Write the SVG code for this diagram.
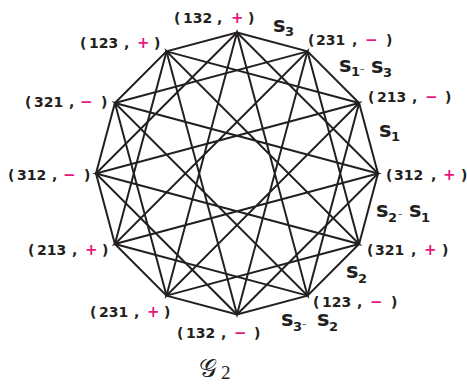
<svg xmlns="http://www.w3.org/2000/svg" width="467" height="384" viewBox="0 0 467 384">
<style>
.e{stroke:#231f20;stroke-width:2;fill:none;stroke-linecap:round}
.lb{font-family:"DejaVu Sans",sans-serif;font-weight:bold;font-size:14px;fill:#231f20}
.sg{fill:#e8177f;font-size:15px}
.gs{font-family:"DejaVu Sans",sans-serif;font-weight:bold;font-size:21px;fill:#231f20}
.gb{font-family:"DejaVu Sans",sans-serif;font-weight:bold;font-size:13px;fill:#231f20}
.gd{font-family:"DejaVu Sans",sans-serif;font-size:9px;fill:#231f20}
.tt{font-family:"DejaVu Serif","DejaVu Sans",serif;font-size:25px;fill:#222}
.tn{font-family:"Liberation Serif",serif;font-size:19px;fill:#222}
</style>
<rect width="467" height="384" fill="#fff"/>
<g id="connectors">
<polygon class="e" points="237,32.5 307.5,51.4 359.1,103 378,173.5 359.1,244 307.5,295.6 237,314.5 166.5,295.6 114.9,244 96,173.5 114.9,103 166.5,51.4"/>
<polygon class="e" points="237,32.5 378,173.5 237,314.5 96,173.5"/>
<polygon class="e" points="307.5,51.4 359.1,244 166.5,295.6 114.9,103"/>
<polygon class="e" points="359.1,103 307.5,295.6 114.9,244 166.5,51.4"/>
<polygon class="e" points="237,32.5 307.5,295.6 114.9,103 378,173.5 114.9,244 307.5,51.4 237,314.5 166.5,51.4 359.1,244 96,173.5 359.1,103 166.5,295.6"/>
</g>
<g id="n0"><text class="lb" y="23"><tspan x="174">(</tspan><tspan x="183">132</tspan><tspan x="217">,</tspan><tspan class="sg" x="231">+</tspan><tspan x="248">)</tspan></text></g>
<g id="n1"><text class="lb" y="45"><tspan x="308">(</tspan><tspan x="316">231</tspan><tspan x="352">,</tspan><tspan class="sg" x="365">−</tspan><tspan x="386">)</tspan></text></g>
<g id="n2"><text class="lb" y="102"><tspan x="368">(</tspan><tspan x="377">213</tspan><tspan x="412">,</tspan><tspan class="sg" x="425">−</tspan><tspan x="445">)</tspan></text></g>
<g id="n3"><text class="lb" y="180"><tspan x="386">(</tspan><tspan x="394">312</tspan><tspan x="431">,</tspan><tspan class="sg" x="443">+</tspan><tspan x="461">)</tspan></text></g>
<g id="n4"><text class="lb" y="255"><tspan x="367">(</tspan><tspan x="375">321</tspan><tspan x="411">,</tspan><tspan class="sg" x="424">+</tspan><tspan x="442">)</tspan></text></g>
<g id="n5"><text class="lb" y="307"><tspan x="313">(</tspan><tspan x="322">123</tspan><tspan x="357">,</tspan><tspan class="sg" x="370">−</tspan><tspan x="391">)</tspan></text></g>
<g id="n6"><text class="lb" y="338"><tspan x="177">(</tspan><tspan x="186">132</tspan><tspan x="221">,</tspan><tspan class="sg" x="234">−</tspan><tspan x="254">)</tspan></text></g>
<g id="n7"><text class="lb" y="317"><tspan x="90">(</tspan><tspan x="99">231</tspan><tspan x="134">,</tspan><tspan class="sg" x="147">+</tspan><tspan x="164">)</tspan></text></g>
<g id="n8"><text class="lb" y="255"><tspan x="28">(</tspan><tspan x="37">213</tspan><tspan x="72">,</tspan><tspan class="sg" x="85">+</tspan><tspan x="102">)</tspan></text></g>
<g id="n9"><text class="lb" y="180"><tspan x="8">(</tspan><tspan x="17">312</tspan><tspan x="52">,</tspan><tspan class="sg" x="63">−</tspan><tspan x="84">)</tspan></text></g>
<g id="n10"><text class="lb" y="107"><tspan x="25">(</tspan><tspan x="34">321</tspan><tspan x="69">,</tspan><tspan class="sg" x="80">−</tspan><tspan x="101">)</tspan></text></g>
<g id="n11"><text class="lb" y="48"><tspan x="80">(</tspan><tspan x="89">123</tspan><tspan x="124">,</tspan><tspan class="sg" x="137">+</tspan><tspan x="154">)</tspan></text></g>
<g id="edge-labels">
<text x="273" y="32"><tspan class="gs">s</tspan><tspan class="gb" x="285" y="36">3</tspan></text>
<text x="339" y="72"><tspan class="gs">s</tspan><tspan class="gb" x="351" y="76">1</tspan><tspan class="gd" x="360" y="72">–</tspan><tspan class="gs" x="371" y="73">s</tspan><tspan class="gb" x="383" y="77">3</tspan></text>
<text x="379" y="137"><tspan class="gs">s</tspan><tspan class="gb" x="391" y="141">1</tspan></text>
<text x="376" y="217"><tspan class="gs">s</tspan><tspan class="gb" x="388" y="222">2</tspan><tspan class="gd" x="398" y="217">–</tspan><tspan class="gs" x="409" y="217">s</tspan><tspan class="gb" x="421" y="222">1</tspan></text>
<text x="346" y="278"><tspan class="gs">s</tspan><tspan class="gb" x="358" y="283">2</tspan></text>
<text x="281" y="326"><tspan class="gs">s</tspan><tspan class="gb" x="293" y="331">3</tspan><tspan class="gd" x="302" y="327">–</tspan><tspan class="gs" x="317" y="326">s</tspan><tspan class="gb" x="329" y="331">2</tspan></text>
</g>
<g id="title"><text x="199" y="377"><tspan class="tt">𝒢</tspan><tspan class="tn" x="221" y="379">2</tspan></text></g>
</svg>
